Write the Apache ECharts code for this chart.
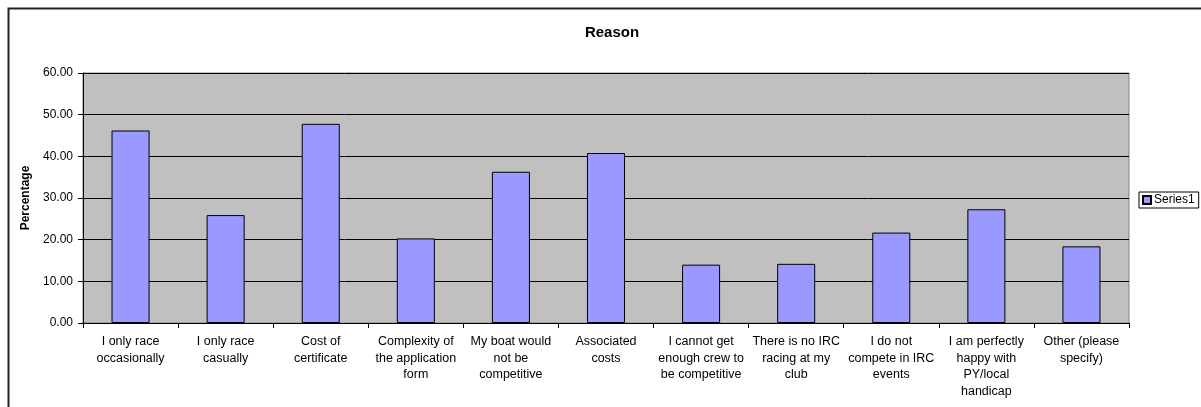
<!DOCTYPE html>
<html>
<head>
<meta charset="utf-8">
<script src="https://cdn.jsdelivr.net/npm/echarts@6/dist/echarts.min.js"></script>
<style>
  html, body { margin: 0; padding: 0; background: #ffffff; }
  #chart { width: 1201px; height: 407px; }
</style>
</head>
<body>
<div id="chart"></div>
<script>
// Survey responses: reasons given, as percentage of respondents
const categories = [
  'I only race\noccasionally',
  'I only race\ncasually',
  'Cost of\ncertificate',
  'Complexity of\nthe application\nform',
  'My boat would\nnot be\ncompetitive',
  'Associated\ncosts',
  'I cannot get\nenough crew to\nbe competitive',
  'There is no IRC\nracing at my\nclub',
  'I do not\ncompete in IRC\nevents',
  'I am perfectly\nhappy with\nPY/local\nhandicap',
  'Other (please\nspecify)'
];
const series1 = [46.2, 25.9, 47.8, 20.3, 36.3, 40.8, 14.0, 14.2, 21.7, 27.3, 18.4];
const yTicks = { min: 0, max: 60, interval: 10 };

const FONT = '"Liberation Sans", Arial, sans-serif';

const chart = echarts.init(document.getElementById('chart'), null, { renderer: 'canvas' });
chart.setOption({
  backgroundColor: '#ffffff',
  animation: false,
  textStyle: { fontFamily: FONT },
  title: {
    text: 'Reason',
    left: 607,
    top: 20,
    textAlign: 'center',
    textStyle: { fontFamily: FONT, fontSize: 15, fontWeight: 'bold', color: '#000' }
  },
  legend: {
    data: ['Series1'],
    left: 1139,
    top: 192,
    orient: 'vertical',
    padding: [2, 4, 2, 3],
    borderColor: '#000',
    borderWidth: 1,
    itemWidth: 8,
    itemHeight: 8,
    itemGap: 4,
    icon: 'rect',
    textStyle: { fontFamily: FONT, fontSize: 12, color: '#000', padding: [0, 0, 0, -2] }
  },
  grid: {
    left: 83, right: 72, top: 73, bottom: 84,
    show: true,
    backgroundColor: '#C0C0C0',
    borderColor: '#808080',
    borderWidth: 1
  },
  xAxis: {
    type: 'category',
    data: categories,
    boundaryGap: true,
    axisLine: { lineStyle: { color: '#000', width: 1 } },
    axisTick: { show: true, alignWithLabel: false, length: 5, lineStyle: { color: '#000' } },
    axisLabel: {
      interval: 0,
      fontFamily: FONT, fontSize: 12.5, color: '#000',
      lineHeight: 16.7, margin: 10
    }
  },
  yAxis: {
    type: 'value',
    min: yTicks.min, max: yTicks.max, interval: yTicks.interval,
    name: 'Percentage',
    nameLocation: 'middle',
    nameGap: 47,
    nameRotate: 90,
    nameTextStyle: { fontFamily: FONT, fontSize: 12, fontWeight: 'bold', color: '#000' },
    axisLine: { show: true, lineStyle: { color: '#000', width: 1 } },
    axisTick: { show: true, length: 5, lineStyle: { color: '#000' } },
    axisLabel: {
      fontFamily: FONT, fontSize: 12, color: '#000', margin: 10,
      formatter: v => v.toFixed(2)
    },
    splitLine: { show: true, lineStyle: { color: '#000', width: 1 } }
  },
  series: [{
    name: 'Series1',
    type: 'bar',
    data: series1,
    barWidth: '40%',
    itemStyle: { color: '#9999FF', borderColor: '#000', borderWidth: 1 }
  }],
  graphic: [{
    type: 'rect',
    left: 6, top: 6,
    shape: { width: 1400, height: 600 },
    style: { fill: 'none', stroke: '#222', lineWidth: 2 },
    silent: true,
    z: 100
  }]
});
</script>
</body>
</html>
